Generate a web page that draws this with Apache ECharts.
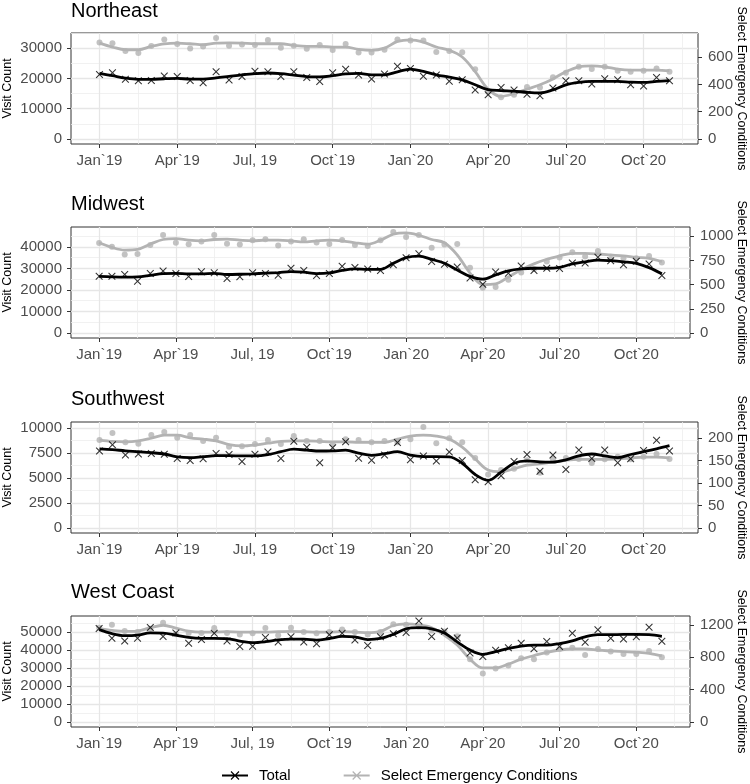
<!DOCTYPE html>
<html><head><meta charset="utf-8">
<script src="https://cdn.jsdelivr.net/npm/echarts@6/dist/echarts.min.js"></script>
<style>html,body{margin:0;padding:0;background:#fff}#c{width:750px;height:784px}</style>
</head><body><div id="c"></div>
<script>
// ---------- DATA ----------
const periods = ['2019-01-01','2019-01-16','2019-02-01','2019-02-16','2019-03-01','2019-03-16','2019-04-01','2019-04-16','2019-05-01','2019-05-16','2019-06-01','2019-06-16','2019-07-01','2019-07-16','2019-08-01','2019-08-16','2019-09-01','2019-09-16','2019-10-01','2019-10-16','2019-11-01','2019-11-16','2019-12-01','2019-12-16','2020-01-01','2020-01-16','2020-02-01','2020-02-16','2020-03-01','2020-03-16','2020-04-01','2020-04-16','2020-05-01','2020-05-16','2020-06-01','2020-06-16','2020-07-01','2020-07-16','2020-08-01','2020-08-16','2020-09-01','2020-09-16','2020-10-01','2020-10-16','2020-11-01'];
const tickDates = ['2019-01-01','2019-04-01','2019-07-01','2019-10-01','2020-01-01','2020-04-01','2020-07-01','2020-10-01'];
const tickLabels = ['Jan`19','Apr`19','Jul, 19','Oct`19','Jan`20','Apr`20','Jul`20','Oct`20'];
const regions = ['Northeast','Midwest','Southwest','West Coast'];
const secFactor = 45;

// Northeast
const neTotal = [21300,21900,19700,19200,19300,20800,20600,19300,18600,22200,19500,20600,22400,22200,20600,22200,20300,19000,21900,23000,21100,19800,21500,24000,23300,20700,21100,19100,19600,16200,14600,17000,16200,14800,14300,16800,19200,19200,18200,19900,19600,17900,17500,20300,19200];
const neTotalFit = [21700,20900,20100,19700,19700,19900,20000,19800,19800,20200,20700,21200,21600,21800,21600,21100,20600,20500,20900,21500,21700,21200,21200,22200,23100,22300,21200,20400,19500,17900,16300,16000,15800,15400,15200,16200,17900,18700,19000,19000,19000,18800,18700,19000,19300];
const neSelect = [708,703,645,631,682,730,698,665,678,741,684,693,690,726,669,684,663,690,653,697,634,635,655,730,723,723,639,645,636,511,345,306,325,381,378,453,487,530,513,530,501,494,501,518,494];
const neSelectFit = [704,675,655,655,680,699,704,699,692,704,706,704,699,699,699,687,680,680,675,675,658,651,667,716,728,711,675,651,602,494,366,313,333,366,398,441,494,530,537,530,513,506,506,506,501];
const neLeftTicks = [0,10000,20000,30000];
const neRightTicks = [0,200,400,600];

// Midwest
const mwTotal = [26400,26400,27200,24100,27600,28800,27600,26300,28500,28000,25300,26200,28000,27600,26800,30100,29000,26700,27600,31000,30500,29700,29000,31700,35000,36800,33200,32000,30700,25600,22600,28400,27800,31200,29000,30100,30000,32500,32500,35200,33600,31700,33300,32100,26700];
const mwTotalFit = [26300,26100,26000,26100,26800,27600,27700,27500,27500,27700,27200,27300,27500,27800,28100,28500,28300,27600,27900,29100,29800,29600,29600,32400,35000,35700,34200,32400,29300,26300,25000,27000,28900,29800,30100,30100,30500,32100,33100,33900,33600,33100,32400,30400,27500];
const mwSelect = [930,890,812,815,910,1013,932,916,945,1013,922,915,957,968,905,945,968,935,920,960,910,900,958,1043,992,1013,880,913,920,675,468,476,551,625,660,738,779,833,789,847,765,772,772,796,728];
const mwSelectFit = [932,884,857,864,918,966,976,959,952,966,970,959,952,959,959,952,942,952,959,952,932,918,959,1020,1034,1010,966,932,806,619,500,507,578,653,714,762,796,823,823,816,806,796,782,772,738];
const mwLeftTicks = [0,10000,20000,30000,40000];
const mwRightTicks = [0,250,500,750,1000];

// Southwest
const swTotal = [7730,8360,7320,7420,7480,7400,6970,6770,6940,7480,7370,6680,7400,7610,6970,8710,8100,6550,8060,8650,7000,6800,7320,8580,6840,7210,6710,7630,6760,4840,4630,5230,6680,7360,5680,7320,5870,7810,6970,7820,6550,6940,7780,8800,7710];
const swTotalFit = [7940,7860,7740,7650,7550,7420,7130,7050,7150,7250,7250,7230,7230,7350,7650,7900,7810,7720,7740,7800,7500,7280,7450,7650,7300,7160,7160,7140,6490,5360,4780,5600,6490,6730,6620,6600,6840,7240,7420,7230,7050,7370,7650,7940,8260];
const swSelect = [196,212,191,188,207,214,201,207,194,201,181,182,187,196,187,205,194,194,187,198,196,191,194,191,198,225,189,200,191,156,119,129,132,151,123,154,156,154,145,153,159,153,159,165,154];
const swSelectFit = [196,193,192,194,200,207,207,201,198,194,186,183,185,189,193,194,194,193,192,192,191,191,191,198,205,207,205,198,180,154,129,125,132,140,143,147,151,153,153,153,154,156,158,158,156];
const swLeftTicks = [0,2500,5000,7500,10000];
const swRightTicks = [0,50,100,150,200];

// West Coast
const wcTotal = [52000,46500,45000,46500,52500,47500,49500,43800,45800,49300,45000,42000,42100,47000,44500,47300,44500,43500,48500,49300,45600,42500,47300,49100,49700,56100,47500,50400,46700,38300,36400,39800,41300,43800,40700,44700,42000,49300,44300,51300,46600,46100,47300,52700,44900];
const wcTotalFit = [51300,49100,48000,48300,49500,49400,48300,47000,46500,46500,46300,45000,44100,44600,45600,46000,46000,45500,46400,47600,47300,45800,46400,48700,51800,52400,51800,49500,44500,40000,37600,39100,40900,42200,42700,42700,43600,45100,47300,48500,48500,48700,48700,48500,47600];
const wcSelect = [1165,1200,1125,1110,1150,1225,1085,1100,1100,1162,1100,1080,1095,1162,1070,1165,1112,1095,1110,1143,1111,1079,1111,1206,1200,1175,1130,1119,1060,776,598,659,699,788,776,857,901,917,828,901,869,840,840,877,800];
const wcSelectFit = [1152,1131,1119,1123,1164,1195,1160,1123,1111,1111,1115,1111,1111,1111,1115,1119,1115,1111,1111,1115,1111,1103,1119,1192,1212,1200,1164,1071,950,776,667,667,715,776,820,861,889,901,901,889,877,869,861,848,816];
const wcLeftTicks = [0,10000,20000,30000,40000,50000];
const wcRightTicks = [0,400,800,1200];

// ---------- HELPERS ----------
const FONT = 'Liberation Sans, Arial, Helvetica, sans-serif';
function monthIndex(s){ const [y,m,d] = s.split('-').map(Number); return (y-2019)*12 + (m-1) + (d-1)/30; }
const xs = periods.map(monthIndex);
const tickX = tickDates.map(monthIndex);
const xSpan = xs[xs.length-1] - xs[0];
const xMin = xs[0] - 0.05*xSpan, xMax = xs[xs.length-1] + 0.05*xSpan;
function minorsOf(ticks, lo, hi){
  const step = ticks[1]-ticks[0]; const out = [];
  for (let i=0;i<ticks.length-1;i++) out.push((ticks[i]+ticks[i+1])/2);
  const a = ticks[0]-step/2, b = ticks[ticks.length-1]+step/2;
  if (a > lo) out.unshift(a);
  if (b < hi) out.push(b);
  return out;
}
const minorX = minorsOf(tickX, xMin, xMax);

const panels = [
  {total:neTotal, totalFit:neTotalFit, select:neSelect, selectFit:neSelectFit, lt:neLeftTicks, rt:neRightTicks},
  {total:mwTotal, totalFit:mwTotalFit, select:mwSelect, selectFit:mwSelectFit, lt:mwLeftTicks, rt:mwRightTicks},
  {total:swTotal, totalFit:swTotalFit, select:swSelect, selectFit:swSelectFit, lt:swLeftTicks, rt:swRightTicks},
  {total:wcTotal, totalFit:wcTotalFit, select:wcSelect, selectFit:wcSelectFit, lt:wcLeftTicks, rt:wcRightTicks}
];
const layout = [
  {top:33, right:52, titleTop:1},
  {top:227, right:60, titleTop:194},
  {top:422, right:52, titleTop:389},
  {top:616, right:60, titleTop:582.5}
];
const PANEL_H = 111;
const crossPath = 'path://M1,0 L5,4 L9,0 L10,1 L6,5 L10,9 L9,10 L5,6 L1,10 L0,9 L4,5 L0,1 Z';
const legendIcon = 'path://M0,4.1 L26,4.1 L26,5.9 L0,5.9 Z M8.6,1.4 L9.4,0.6 L17.4,8.6 L16.6,9.4 Z M16.6,0.6 L17.4,1.4 L9.4,9.4 L8.6,8.6 Z';
const GRAY = '#b3b3b3';
const majorGrid = {show:true, lineStyle:{color:'#e6e6e6', width:1.3}};
const minorGrid = {show:true, lineStyle:{color:'#eeeeee', width:0.8}};
const noLine = {show:false, onZero:false};

const grids=[], xAxes=[], yAxes=[], series=[], titles=[];
panels.forEach((p,g)=>{
  const L = layout[g];
  grids.push({left:71, right:L.right, top:L.top, height:PANEL_H, show:true, borderColor:'#333', borderWidth:1,
    backgroundColor:'transparent', containLabel:false, outerBoundsMode:'none'});
  titles.push({text:regions[g], left:71, top:L.titleTop, padding:0, textStyle:{fontSize:20, fontWeight:'normal', color:'#000', fontFamily:FONT}});
  const M = Math.max(...p.total, ...p.totalFit, ...p.select.map(v=>v*secFactor), ...p.selectFit.map(v=>v*secFactor), 0);
  const yMin = -0.05*M, yMax = 1.05*M;
  const minorY = minorsOf(p.lt, yMin, yMax);
  // x main
  xAxes.push({type:'value', gridIndex:g, min:xMin, max:xMax, position:'bottom',
    axisLine:noLine,
    axisTick:{show:true, length:4, lineStyle:{color:'#333', width:1}, customValues:tickX},
    axisLabel:{customValues:tickX, color:'#4d4d4d', fontSize:15, margin:9, fontFamily:FONT,
      formatter:(v)=>{ const i = tickX.findIndex(t=>Math.abs(t-v)<1e-6); return i>=0?tickLabels[i]:''; }},
    splitLine:majorGrid});
  // x minor (grid only)
  xAxes.push({type:'value', gridIndex:g, min:xMin, max:xMax, position:'top',
    axisLine:noLine, axisTick:{show:false, customValues:minorX}, axisLabel:{show:false, customValues:minorX},
    splitLine:minorGrid});
  // y left
  yAxes.push({type:'value', gridIndex:g, min:yMin, max:yMax, position:'left',
    axisLine:noLine,
    axisTick:{show:true, length:4, lineStyle:{color:'#333', width:1}, customValues:p.lt},
    axisLabel:{customValues:p.lt, color:'#4d4d4d', fontSize:15, margin:9, fontFamily:FONT, formatter:(v)=>String(v)},
    splitLine:majorGrid,
    name:'Visit Count', nameLocation:'middle', nameGap:57, nameMoveOverlap:false,
    nameTextStyle:{fontSize:12.5, color:'#000', fontFamily:FONT}});
  // y right
  yAxes.push({type:'value', gridIndex:g, min:yMin/secFactor, max:yMax/secFactor, position:'right',
    axisLine:noLine,
    axisTick:{show:true, length:4, lineStyle:{color:'#333', width:1}, customValues:p.rt},
    axisLabel:{customValues:p.rt, color:'#4d4d4d', fontSize:15, margin:10, fontFamily:FONT, formatter:(v)=>String(v)},
    splitLine:{show:false},
    name:'Select Emergency Conditions', nameLocation:'middle', nameRotate:-90, nameGap:L.right-15.5, nameMoveOverlap:false,
    nameTextStyle:{fontSize:12.5, color:'#000', fontFamily:FONT}});
  // y minor (grid only)
  yAxes.push({type:'value', gridIndex:g, min:yMin, max:yMax, position:'left', offset:0,
    axisLine:noLine, axisTick:{show:false, customValues:minorY}, axisLabel:{show:false, customValues:minorY},
    splitLine:minorGrid});

  const xi0 = 2*g, yiL = 3*g, yiR = 3*g+1;
  series.push({type:'line', name:'Select Emergency Conditions', xAxisIndex:xi0, yAxisIndex:yiR,
    data:xs.map((x,i)=>[x,p.selectFit[i]]), smooth:0.35, showSymbol:false, symbol:'none',
    lineStyle:{color:GRAY, width:2.8}, itemStyle:{color:GRAY}, z:3, silent:true});
  series.push({type:'scatter', name:'Select Emergency Conditions', xAxisIndex:xi0, yAxisIndex:yiR,
    data:xs.map((x,i)=>[x,p.select[i]]), symbol:'circle', symbolSize:6,
    itemStyle:{color:GRAY}, z:3, silent:true});
  series.push({type:'line', name:'Total', xAxisIndex:xi0, yAxisIndex:yiL,
    data:xs.map((x,i)=>[x,p.totalFit[i]]), smooth:0.35, showSymbol:false, symbol:'none',
    lineStyle:{color:'#000', width:2.8}, itemStyle:{color:'#000'}, z:4, silent:true});
  series.push({type:'scatter', name:'Total', xAxisIndex:xi0, yAxisIndex:yiL,
    data:xs.map((x,i)=>[x,p.total[i]]), symbol:crossPath, symbolSize:7.5,
    itemStyle:{color:'#000'}, z:5, silent:true});
});

const chart = echarts.init(document.getElementById('c'), null, {renderer:'canvas', width:750, height:784});
chart.setOption({
  animation:false,
  backgroundColor:'#fff',
  title:titles,
  grid:grids, xAxis:xAxes, yAxis:yAxes, series:series,
  legend:{
    data:[{name:'Total', icon:legendIcon, itemStyle:{color:'#000'}}, {name:'Select Emergency Conditions', icon:legendIcon, itemStyle:{color:GRAY}}],
    left:217, top:763, itemWidth:26, itemHeight:10, itemGap:53, selectedMode:false,
    textStyle:{fontSize:15, color:'#000', fontFamily:FONT, padding:[0,0,0,6]}
  }
});
</script></body></html>
